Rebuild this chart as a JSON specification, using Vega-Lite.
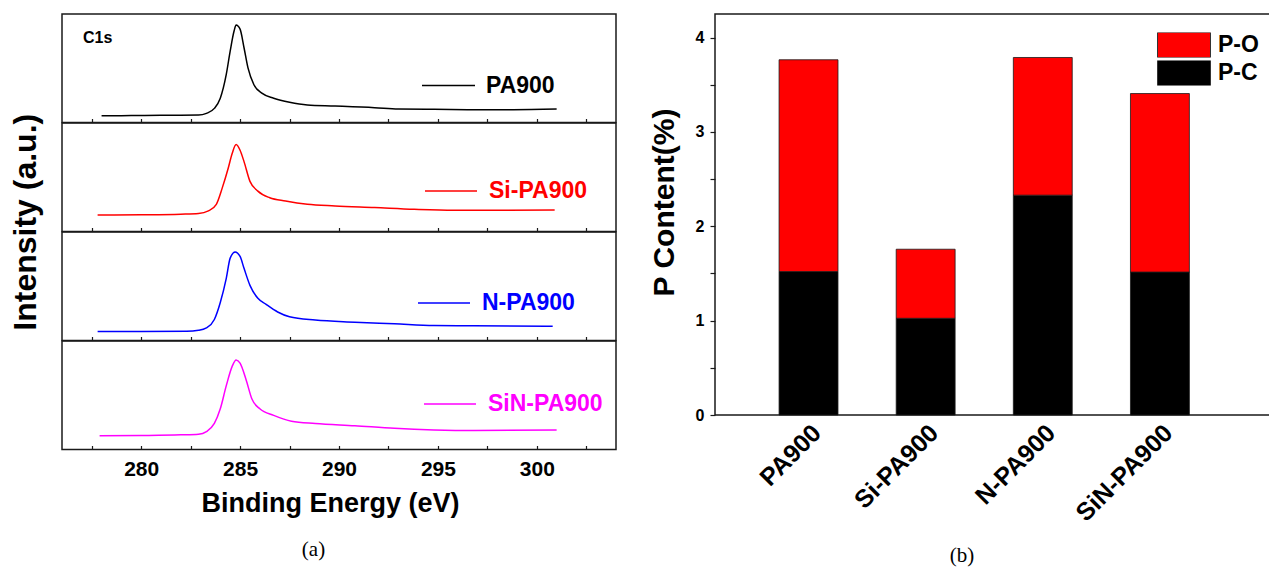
{
  "$schema": "https://vega.github.io/schema/vega-lite/v6.json",
  "padding": {"left": 10, "top": 13, "right": 0, "bottom": 0},
  "config": {
    "font": "Liberation Sans",
    "view": {"stroke": "#1a1a1a", "strokeWidth": 1.5},
    "axis": {"labelFont": "Liberation Sans", "labelFontWeight": "bold", "titleFont": "Liberation Sans", "titleFontWeight": "bold", "labelColor": "#000", "titleColor": "#000", "tickColor": "#1a1a1a", "domainColor": "#1a1a1a", "grid": false},
    "legend": {"labelFont": "Liberation Sans"},
    "title": {"color": "#000"}
  },
  "datasets": {
    "xps": [
      {"sample": "PA900", "e": 278.0, "i": 0.062}, {"sample": "PA900", "e": 279.0, "i": 0.063}, {"sample": "PA900", "e": 280.0, "i": 0.065}, {"sample": "PA900", "e": 281.0, "i": 0.066}, {"sample": "PA900", "e": 282.0, "i": 0.067}, {"sample": "PA900", "e": 282.9, "i": 0.068}, {"sample": "PA900", "e": 283.3, "i": 0.084}, {"sample": "PA900", "e": 283.7, "i": 0.13}, {"sample": "PA900", "e": 284.0, "i": 0.224}, {"sample": "PA900", "e": 284.3, "i": 0.441}, {"sample": "PA900", "e": 284.5, "i": 0.658}, {"sample": "PA900", "e": 284.7, "i": 0.845}, {"sample": "PA900", "e": 284.8, "i": 0.898}, {"sample": "PA900", "e": 285.0, "i": 0.86}, {"sample": "PA900", "e": 285.2, "i": 0.689}, {"sample": "PA900", "e": 285.4, "i": 0.503}, {"sample": "PA900", "e": 285.7, "i": 0.348}, {"sample": "PA900", "e": 286.1, "i": 0.27}, {"sample": "PA900", "e": 286.7, "i": 0.224}, {"sample": "PA900", "e": 287.5, "i": 0.186}, {"sample": "PA900", "e": 288.4, "i": 0.161}, {"sample": "PA900", "e": 289.8, "i": 0.152}, {"sample": "PA900", "e": 291.8, "i": 0.137}, {"sample": "PA900", "e": 293.0, "i": 0.124}, {"sample": "PA900", "e": 294.8, "i": 0.121}, {"sample": "PA900", "e": 296.8, "i": 0.118}, {"sample": "PA900", "e": 298.8, "i": 0.118}, {"sample": "PA900", "e": 301.0, "i": 0.124},
      {"sample": "Si-PA900", "e": 277.8, "i": 0.151}, {"sample": "Si-PA900", "e": 280.0, "i": 0.154}, {"sample": "Si-PA900", "e": 282.0, "i": 0.16}, {"sample": "Si-PA900", "e": 282.9, "i": 0.166}, {"sample": "Si-PA900", "e": 283.4, "i": 0.19}, {"sample": "Si-PA900", "e": 283.8, "i": 0.251}, {"sample": "Si-PA900", "e": 284.1, "i": 0.402}, {"sample": "Si-PA900", "e": 284.4, "i": 0.583}, {"sample": "Si-PA900", "e": 284.6, "i": 0.719}, {"sample": "Si-PA900", "e": 284.8, "i": 0.801}, {"sample": "Si-PA900", "e": 285.0, "i": 0.749}, {"sample": "Si-PA900", "e": 285.2, "i": 0.644}, {"sample": "Si-PA900", "e": 285.5, "i": 0.462}, {"sample": "Si-PA900", "e": 285.9, "i": 0.372}, {"sample": "Si-PA900", "e": 286.5, "i": 0.311}, {"sample": "Si-PA900", "e": 287.3, "i": 0.281}, {"sample": "Si-PA900", "e": 288.4, "i": 0.251}, {"sample": "Si-PA900", "e": 289.8, "i": 0.236}, {"sample": "Si-PA900", "e": 291.8, "i": 0.221}, {"sample": "Si-PA900", "e": 293.8, "i": 0.205}, {"sample": "Si-PA900", "e": 295.8, "i": 0.196}, {"sample": "Si-PA900", "e": 297.8, "i": 0.196}, {"sample": "Si-PA900", "e": 300.9, "i": 0.199},
      {"sample": "N-PA900", "e": 277.8, "i": 0.082}, {"sample": "N-PA900", "e": 280.0, "i": 0.082}, {"sample": "N-PA900", "e": 282.3, "i": 0.085}, {"sample": "N-PA900", "e": 282.9, "i": 0.094}, {"sample": "N-PA900", "e": 283.3, "i": 0.116}, {"sample": "N-PA900", "e": 283.7, "i": 0.194}, {"sample": "N-PA900", "e": 284.0, "i": 0.351}, {"sample": "N-PA900", "e": 284.3, "i": 0.571}, {"sample": "N-PA900", "e": 284.5, "i": 0.759}, {"sample": "N-PA900", "e": 284.75, "i": 0.815}, {"sample": "N-PA900", "e": 285.0, "i": 0.775}, {"sample": "N-PA900", "e": 285.2, "i": 0.665}, {"sample": "N-PA900", "e": 285.5, "i": 0.508}, {"sample": "N-PA900", "e": 285.9, "i": 0.389}, {"sample": "N-PA900", "e": 286.3, "i": 0.335}, {"sample": "N-PA900", "e": 286.9, "i": 0.263}, {"sample": "N-PA900", "e": 287.5, "i": 0.219}, {"sample": "N-PA900", "e": 288.8, "i": 0.188}, {"sample": "N-PA900", "e": 290.8, "i": 0.169}, {"sample": "N-PA900", "e": 292.8, "i": 0.154}, {"sample": "N-PA900", "e": 294.8, "i": 0.138}, {"sample": "N-PA900", "e": 296.8, "i": 0.135}, {"sample": "N-PA900", "e": 300.8, "i": 0.132},
      {"sample": "SiN-PA900", "e": 277.9, "i": 0.126}, {"sample": "SiN-PA900", "e": 280.0, "i": 0.129}, {"sample": "SiN-PA900", "e": 282.0, "i": 0.135}, {"sample": "SiN-PA900", "e": 282.9, "i": 0.141}, {"sample": "SiN-PA900", "e": 283.3, "i": 0.165}, {"sample": "SiN-PA900", "e": 283.7, "i": 0.24}, {"sample": "SiN-PA900", "e": 284.0, "i": 0.375}, {"sample": "SiN-PA900", "e": 284.3, "i": 0.586}, {"sample": "SiN-PA900", "e": 284.6, "i": 0.766}, {"sample": "SiN-PA900", "e": 284.8, "i": 0.826}, {"sample": "SiN-PA900", "e": 285.0, "i": 0.796}, {"sample": "SiN-PA900", "e": 285.3, "i": 0.646}, {"sample": "SiN-PA900", "e": 285.6, "i": 0.465}, {"sample": "SiN-PA900", "e": 286.0, "i": 0.375}, {"sample": "SiN-PA900", "e": 286.7, "i": 0.315}, {"sample": "SiN-PA900", "e": 287.6, "i": 0.261}, {"sample": "SiN-PA900", "e": 288.8, "i": 0.24}, {"sample": "SiN-PA900", "e": 290.8, "i": 0.219}, {"sample": "SiN-PA900", "e": 292.8, "i": 0.195}, {"sample": "SiN-PA900", "e": 294.8, "i": 0.18}, {"sample": "SiN-PA900", "e": 296.8, "i": 0.174}, {"sample": "SiN-PA900", "e": 301.0, "i": 0.18}
    ],
    "pcontent": [
      {"sample": "PA900", "part": "P-C", "v": 1.52}, {"sample": "PA900", "part": "P-O", "v": 2.245},
      {"sample": "Si-PA900", "part": "P-C", "v": 1.025}, {"sample": "Si-PA900", "part": "P-O", "v": 0.732},
      {"sample": "N-PA900", "part": "P-C", "v": 2.33}, {"sample": "N-PA900", "part": "P-O", "v": 1.459},
      {"sample": "SiN-PA900", "part": "P-C", "v": 1.515}, {"sample": "SiN-PA900", "part": "P-O", "v": 1.892}
    ]
  },
  "spacing": 31,
  "resolve": {"scale": {"x": "independent", "y": "independent", "color": "independent"}, "legend": {"color": "independent"}},
  "hconcat": [
    {
      "title": {"text": "(a)", "orient": "bottom", "anchor": "middle", "frame": "bounds", "font": "Liberation Serif", "fontSize": 21, "fontWeight": "normal", "offset": 22},
      "vconcat": [
        {
          "title": {"text": "Intensity (a.u.)", "orient": "left", "anchor": "middle", "font": "Liberation Sans", "fontSize": 32, "fontWeight": "bold", "offset": 18, "dx": 43},
          "spacing": 0,
          "bounds": "flush",
          "resolve": {"scale": {"x": "independent", "y": "independent", "color": "independent"}, "legend": {"color": "independent"}},
          "vconcat": [
            {
              "width": 554, "height": 108.5,
              "layer": [
                {
                  "data": {"name": "xps"},
                  "transform": [{"filter": "datum.sample === 'PA900'"}],
                  "mark": {"type": "line", "strokeWidth": 1.5, "interpolate": "monotone"},
                  "encoding": {
                    "x": {"field": "e", "type": "quantitative", "scale": {"domain": [276, 304], "nice": false, "zero": false}, "axis": {"values": [277.5, 280, 282.5, 285, 287.5, 290, 292.5, 295, 297.5, 300, 302.5], "labels": false, "tickSize": -4, "tickWidth": 1.2, "domain": false, "title": null}},
                    "y": {"field": "i", "type": "quantitative", "scale": {"domain": [0, 1], "nice": false}, "axis": null},
                    "color": {"field": "sample", "type": "nominal", "scale": {"domain": ["PA900"], "range": ["#000000"]}, "legend": {"orient": "none", "legendX": 359, "legendY": 44, "title": null, "symbolType": "stroke", "symbolSize": 2809, "symbolStrokeWidth": 1.5, "labelFontSize": 23, "labelFontWeight": "bold", "labelColor": "#000000", "labelOffset": 10, "padding": 0}}
                  }
                },
                {
                  "data": {"values": [{"e": 277.06, "i": 0.777, "t": "C1s"}]},
                  "mark": {"type": "text", "align": "left", "baseline": "middle", "fontSize": 16, "fontWeight": "bold", "font": "Liberation Sans", "color": "#000"},
                  "encoding": {"x": {"field": "e", "type": "quantitative"}, "y": {"field": "i", "type": "quantitative"}, "text": {"field": "t"}}
                }
              ]
            },
            {
              "width": 554, "height": 108.5,
              "data": {"name": "xps"},
              "transform": [{"filter": "datum.sample === 'Si-PA900'"}],
              "mark": {"type": "line", "strokeWidth": 1.5, "interpolate": "monotone"},
              "encoding": {
                "x": {"field": "e", "type": "quantitative", "scale": {"domain": [276, 304], "nice": false, "zero": false}, "axis": {"values": [277.5, 280, 282.5, 285, 287.5, 290, 292.5, 295, 297.5, 300, 302.5], "labels": false, "tickSize": -4, "tickWidth": 1.2, "domain": false, "title": null}},
                "y": {"field": "i", "type": "quantitative", "scale": {"domain": [0, 1], "nice": false}, "axis": null},
                "color": {"field": "sample", "type": "nominal", "scale": {"domain": ["Si-PA900"], "range": ["#FF0000"]}, "legend": {"orient": "none", "legendX": 362, "legendY": 41, "title": null, "symbolType": "stroke", "symbolSize": 2704, "symbolStrokeWidth": 1.5, "labelFontSize": 23, "labelFontWeight": "bold", "labelColor": "#FF0000", "labelOffset": 11, "padding": 0}}
              }
            },
            {
              "width": 554, "height": 108.5,
              "data": {"name": "xps"},
              "transform": [{"filter": "datum.sample === 'N-PA900'"}],
              "mark": {"type": "line", "strokeWidth": 1.5, "interpolate": "monotone"},
              "encoding": {
                "x": {"field": "e", "type": "quantitative", "scale": {"domain": [276, 304], "nice": false, "zero": false}, "axis": {"values": [277.5, 280, 282.5, 285, 287.5, 290, 292.5, 295, 297.5, 300, 302.5], "labels": false, "tickSize": -4, "tickWidth": 1.2, "domain": false, "title": null}},
                "y": {"field": "i", "type": "quantitative", "scale": {"domain": [0, 1], "nice": false}, "axis": null},
                "color": {"field": "sample", "type": "nominal", "scale": {"domain": ["N-PA900"], "range": ["#0000FF"]}, "legend": {"orient": "none", "legendX": 355, "legendY": 44, "title": null, "symbolType": "stroke", "symbolSize": 2704, "symbolStrokeWidth": 1.5, "labelFontSize": 23, "labelFontWeight": "bold", "labelColor": "#0000FF", "labelOffset": 11, "padding": 0}}
              }
            },
            {
              "width": 554, "height": 108.5,
              "data": {"name": "xps"},
              "transform": [{"filter": "datum.sample === 'SiN-PA900'"}],
              "mark": {"type": "line", "strokeWidth": 1.5, "interpolate": "monotone"},
              "encoding": {
                "x": {"field": "e", "type": "quantitative", "scale": {"domain": [276, 304], "nice": false, "zero": false}, "axis": {"values": [277.5, 280, 282.5, 285, 287.5, 290, 292.5, 295, 297.5, 300, 302.5], "labelExpr": "datum.value % 5 === 0 ? datum.label : ''", "labelFontSize": 21, "labelPadding": 13, "tickSize": -4, "tickWidth": 1.2, "domain": false, "title": "Binding Energy (eV)", "titleFontSize": 27, "titlePadding": 11, "titleX": 268}},
                "y": {"field": "i", "type": "quantitative", "scale": {"domain": [0, 1], "nice": false}, "axis": null},
                "color": {"field": "sample", "type": "nominal", "scale": {"domain": ["SiN-PA900"], "range": ["#FF00FF"]}, "legend": {"orient": "none", "legendX": 361, "legendY": 36, "title": null, "symbolType": "stroke", "symbolSize": 2704, "symbolStrokeWidth": 1.5, "labelFontSize": 23, "labelFontWeight": "bold", "labelColor": "#FF00FF", "labelOffset": 11, "padding": 0}}
              }
            }
          ]
        }
      ]
    },
    {
      "title": {"text": "(b)", "orient": "bottom", "anchor": "middle", "frame": "bounds", "font": "Liberation Serif", "fontSize": 21, "fontWeight": "normal", "offset": 19},
      "width": 560,
      "height": 401,
      "data": {"name": "pcontent"},
      "mark": {"type": "bar", "stroke": "#1a1a1a", "strokeWidth": 0.8},
      "encoding": {
        "x": {"field": "sample", "type": "nominal", "sort": ["PA900", "Si-PA900", "N-PA900", "SiN-PA900"], "scale": {"paddingInner": 0.497, "paddingOuter": 0.639, "align": 0.428}, "axis": {"title": null, "labelAngle": -45, "labelFontSize": 25, "ticks": false, "domain": false, "labelPadding": 5}},
        "y": {"field": "v", "type": "quantitative", "stack": "zero", "scale": {"domain": [0, 4.25], "nice": false}, "axis": {"title": "P Content(%)", "values": [0, 0.5, 1, 1.5, 2, 2.5, 3, 3.5, 4], "labelExpr": "datum.value % 1 === 0 ? format(datum.value, 'd') : ''", "tickSize": 5, "tickWidth": 1.2, "labelFontSize": 16, "labelPadding": 6, "titleFontSize": 30, "titlePadding": 16, "titleY": 188, "domain": false}},
        "color": {"field": "part", "type": "nominal", "scale": {"domain": ["P-O", "P-C"], "range": ["#FF0000", "#000000"]}, "legend": {"orient": "none", "legendX": 442, "legendY": 18.5, "title": null, "symbolType": "M-1,-0.4717H1V0.4717H-1Z", "symbolSize": 2809, "symbolStrokeColor": "#333333", "symbolStrokeWidth": 1, "clipHeight": 25, "labelFontSize": 23, "labelFontWeight": "bold", "labelColor": "#000", "labelOffset": 7, "rowPadding": 3, "padding": 0}},
        "order": {"field": "part", "sort": "ascending"}
      }
    }
  ]
}
